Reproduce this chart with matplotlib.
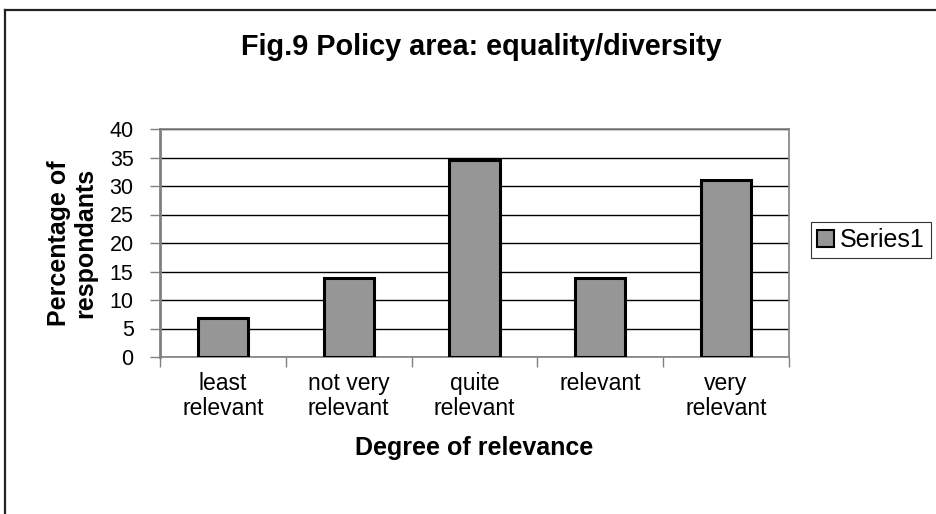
import matplotlib
matplotlib.use("Agg")
import matplotlib.pyplot as plt
from matplotlib.lines import Line2D
from matplotlib.patches import Patch
import numpy as np

categories = ["least\nrelevant", "not very\nrelevant", "quite\nrelevant", "relevant", "very\nrelevant"]
values = [6.9, 13.8, 34.5, 13.8, 31.0]
series_name = "Series1"
y_ticks = [0, 5, 10, 15, 20, 25, 30, 35, 40]

plt.rcParams["font.family"] = ["Liberation Sans", "DejaVu Sans"]

fig = plt.figure(figsize=(9.37, 5.14), dpi=100)
ax = fig.add_axes([160 / 937, 1 - 357 / 514, (789 - 160) / 937, (357 - 129) / 514])

x = np.arange(len(categories))
ax.bar(x, values, width=0.4, color="#969696", edgecolor="black", linewidth=2.2,
       zorder=3, label=series_name)

ax.set_xlim(-0.5, len(categories) - 0.5)
ax.set_ylim(0, 40)
ax.set_yticks(y_ticks)
ax.set_yticklabels([str(t) for t in y_ticks], fontsize=15.5)
ax.yaxis.grid(True, color="black", linewidth=1.0, zorder=0)
ax.set_axisbelow(True)

# category labels centred on bars, tick marks at category boundaries
ax.set_xticks(x)
ax.set_xticklabels(categories, fontsize=16.5, linespacing=1.12)
ax.tick_params(axis="x", which="major", length=0, pad=11)
ax.set_xticks(np.arange(-0.5, len(categories)), minor=True)
ax.tick_params(axis="x", which="minor", length=7, width=1, color="#808080", direction="out")
ax.tick_params(axis="y", length=7, width=1, color="#808080", direction="out", pad=12)

for side in ["top", "right"]:
    ax.spines[side].set_color("#808080")
    ax.spines[side].set_linewidth(1.2)
ax.spines["left"].set_color("#808080")
ax.spines["left"].set_linewidth(2.0)
ax.spines["bottom"].set_color("#808080")
ax.spines["bottom"].set_linewidth(1.2)

ax.set_xlabel("Degree of relevance", fontsize=18, fontweight="bold", labelpad=11)
ax.set_ylabel("Percentage of\nrespondants", fontsize=18, fontweight="bold",
              labelpad=9, linespacing=1.08)

fig.text(481 / 937, 1 - 47 / 514, "Fig.9 Policy area: equality/diversity",
         ha="center", va="center", fontsize=20.8, fontweight="bold")

handle = Patch(facecolor="#969696", edgecolor="black", linewidth=1.5)
leg = fig.legend([handle], [series_name], loc="center left",
                 bbox_to_anchor=(811 / 937, 1 - 240 / 514), fontsize=18,
                 frameon=True, fancybox=False, edgecolor="black",
                 handlelength=0.65, handleheight=0.65, handletextpad=0.25,
                 borderpad=0.25, borderaxespad=0)
leg.get_frame().set_linewidth(0.8)

# outer chart frame (left and top edges)
fig.add_artist(Line2D([5 / 937, 5 / 937], [0, 1 - 10 / 514], color="#222222",
                      linewidth=1.6, transform=fig.transFigure))
fig.add_artist(Line2D([5 / 937, 1], [1 - 10 / 514, 1 - 10 / 514], color="#222222",
                      linewidth=1.6, transform=fig.transFigure))

fig.savefig("out.png", dpi=100)
